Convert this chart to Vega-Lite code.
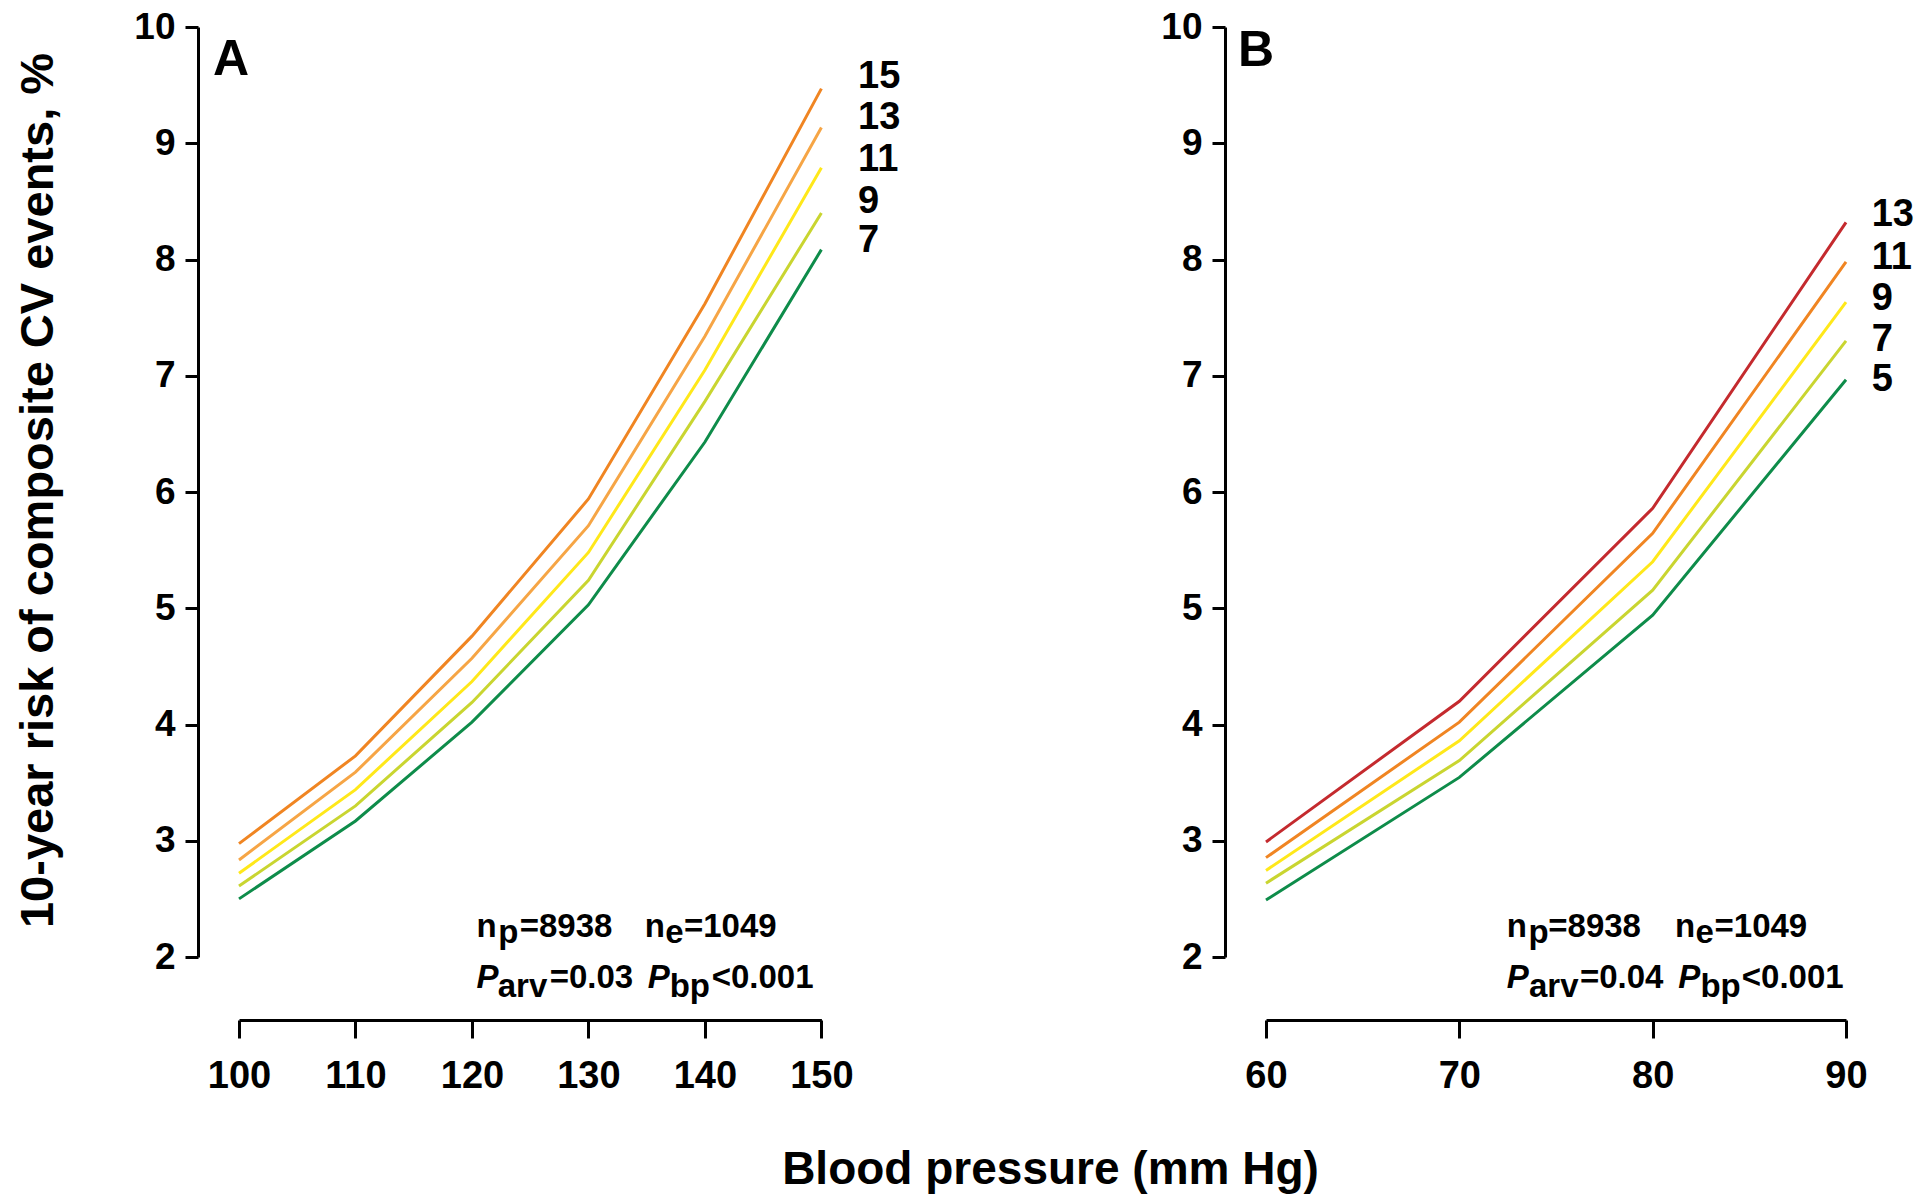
{
  "$schema": "https://vega.github.io/schema/vega-lite/v6.json",
  "autosize": {"type": "none"},
  "padding": {"left": 239, "top": 27, "right": 1681, "bottom": 1171},
  "background": "white",
  "config": {"view": {"stroke": null}, "font": "Liberation Sans"},
  "bounds": "flush",
  "spacing": 444,
  "resolve": {"scale": {"color": "independent", "x": "independent", "y": "independent"}},
  "hconcat": [
    {
      "width": 582.4,
      "height": 930,
      "encoding": {
        "x": {"field": "bp", "type": "quantitative",
          "scale": {"domain": [100, 150], "nice": false, "zero": false},
          "axis": {"values": [100, 110, 120, 130, 140, 150], "offset": 63, "tickSize": 18, "tickWidth": 3, "domainWidth": 3,
            "domainColor": "black", "tickColor": "black", "labelColor": "black", "labelFont": "Liberation Sans",
            "labelFontSize": 38, "labelFontWeight": "bold", "labelPadding": 19, "labelFlush": false, "labelOverlap": false, "grid": false,
            "title": "Blood pressure (mm Hg)", "titleFont": "Liberation Sans", "titleFontSize": 46, "titleFontWeight": "bold", "titleColor": "black",
            "titleX": 811, "titleY": 163, "titleBaseline": "alphabetic", "titleAlign": "center"}},
        "y": {"field": "risk", "type": "quantitative",
          "scale": {"domain": [2, 10], "nice": false, "zero": false},
          "axis": {"values": [2, 3, 4, 5, 6, 7, 8, 9, 10], "offset": 41, "tickSize": 13, "tickWidth": 3, "domainWidth": 3,
            "domainColor": "black", "tickColor": "black", "labelColor": "black", "labelFont": "Liberation Sans",
            "labelFontSize": 37, "labelFontWeight": "bold", "labelPadding": 10, "labelOverlap": false, "grid": false,
            "title": "10-year risk of composite CV events, %", "titleFont": "Liberation Sans", "titleFontSize": 47, "titleFontWeight": "bold", "titleColor": "black",
            "titleX": -146, "titleY": 463, "titleAngle": -90, "titleBaseline": "alphabetic", "titleAlign": "center"}}
      },
      "layer": [
        {
          "data": {"values": [
            {"bp": 100, "risk": 2.975, "series": "15"}, {"bp": 110, "risk": 3.73, "series": "15"}, {"bp": 120, "risk": 4.76, "series": "15"}, {"bp": 130, "risk": 5.94, "series": "15"}, {"bp": 140, "risk": 7.62, "series": "15"}, {"bp": 150, "risk": 9.47, "series": "15"},
            {"bp": 100, "risk": 2.835, "series": "13"}, {"bp": 110, "risk": 3.59, "series": "13"}, {"bp": 120, "risk": 4.57, "series": "13"}, {"bp": 130, "risk": 5.71, "series": "13"}, {"bp": 140, "risk": 7.34, "series": "13"}, {"bp": 150, "risk": 9.135, "series": "13"},
            {"bp": 100, "risk": 2.72, "series": "11"}, {"bp": 110, "risk": 3.44, "series": "11"}, {"bp": 120, "risk": 4.37, "series": "11"}, {"bp": 130, "risk": 5.48, "series": "11"}, {"bp": 140, "risk": 7.05, "series": "11"}, {"bp": 150, "risk": 8.79, "series": "11"},
            {"bp": 100, "risk": 2.61, "series": "9"}, {"bp": 110, "risk": 3.30, "series": "9"}, {"bp": 120, "risk": 4.19, "series": "9"}, {"bp": 130, "risk": 5.24, "series": "9"}, {"bp": 140, "risk": 6.78, "series": "9"}, {"bp": 150, "risk": 8.40, "series": "9"},
            {"bp": 100, "risk": 2.50, "series": "7"}, {"bp": 110, "risk": 3.17, "series": "7"}, {"bp": 120, "risk": 4.02, "series": "7"}, {"bp": 130, "risk": 5.03, "series": "7"}, {"bp": 140, "risk": 6.43, "series": "7"}, {"bp": 150, "risk": 8.085, "series": "7"}
          ]},
          "mark": {"type": "line", "strokeWidth": 3},
          "encoding": {
            "color": {"field": "series", "type": "nominal",
              "scale": {"domain": ["15", "13", "11", "9", "7"], "range": ["#F08522", "#F6A545", "#FFE81A", "#C9D530", "#0E8C4A"]},
              "legend": null}
          }
        },
        {
          "data": {"values": [
            {"bp": 153.15, "risk": 9.573, "label": "15"}, {"bp": 153.15, "risk": 9.219, "label": "13"}, {"bp": 153.15, "risk": 8.853, "label": "11"},
            {"bp": 153.15, "risk": 8.495, "label": "9"}, {"bp": 153.15, "risk": 8.158, "label": "7"}
          ]},
          "mark": {"type": "text", "align": "left", "baseline": "middle", "fontSize": 38, "fontWeight": "bold", "color": "black"},
          "encoding": {"text": {"field": "label"}}
        },
        {
          "data": {"values": [{"bp": 97.77, "risk": 9.72, "label": "A"}]},
          "mark": {"type": "text", "align": "left", "baseline": "middle", "fontSize": 50, "fontWeight": "bold", "color": "black"},
          "encoding": {"text": {"field": "label"}}
        },
        {
          "data": {"values": [
            {"bp": 120.38, "risk": 2.172, "label": "n"}, {"bp": 122.25, "risk": 2.118, "label": "p"}, {"bp": 124.1, "risk": 2.172, "label": "=8938"},
            {"bp": 134.83, "risk": 2.172, "label": "n"}, {"bp": 136.6, "risk": 2.118, "label": "e"}, {"bp": 138.2, "risk": 2.172, "label": "=1049"},
            {"bp": 122.21, "risk": 1.656, "label": "arv"}, {"bp": 126.67, "risk": 1.731, "label": "=0.03"},
            {"bp": 136.97, "risk": 1.656, "label": "bp"}, {"bp": 140.58, "risk": 1.731, "label": "<0.001"}
          ]},
          "mark": {"type": "text", "align": "left", "baseline": "alphabetic", "fontSize": 33, "fontWeight": "bold", "color": "black"},
          "encoding": {"text": {"field": "label"}}
        },
        {
          "data": {"values": [
            {"bp": 120.38, "risk": 1.731, "label": "P"}, {"bp": 135.09, "risk": 1.731, "label": "P"}
          ]},
          "mark": {"type": "text", "align": "left", "baseline": "alphabetic", "fontSize": 33, "fontWeight": "bold", "fontStyle": "italic", "color": "black"},
          "encoding": {"text": {"field": "label"}}
        }
      ]
    },
    {
      "width": 580,
      "height": 930,
      "encoding": {
        "x": {"field": "bp", "type": "quantitative",
          "scale": {"domain": [60, 90], "nice": false, "zero": false},
          "axis": {"values": [60, 70, 80, 90], "offset": 63, "tickSize": 18, "tickWidth": 3, "domainWidth": 3,
            "domainColor": "black", "tickColor": "black", "labelColor": "black", "labelFont": "Liberation Sans",
            "labelFontSize": 38, "labelFontWeight": "bold", "labelPadding": 19, "labelFlush": false, "labelOverlap": false, "grid": false,
            "title": null}},
        "y": {"field": "risk", "type": "quantitative",
          "scale": {"domain": [2, 10], "nice": false, "zero": false},
          "axis": {"values": [2, 3, 4, 5, 6, 7, 8, 9, 10], "offset": 41, "tickSize": 13, "tickWidth": 3, "domainWidth": 3,
            "domainColor": "black", "tickColor": "black", "labelColor": "black", "labelFont": "Liberation Sans",
            "labelFontSize": 37, "labelFontWeight": "bold", "labelPadding": 10, "labelOverlap": false, "grid": false,
            "title": null}}
      },
      "layer": [
        {
          "data": {"values": [
            {"bp": 60, "risk": 2.99, "series": "13"}, {"bp": 70, "risk": 4.20, "series": "13"}, {"bp": 80, "risk": 5.86, "series": "13"}, {"bp": 90, "risk": 8.32, "series": "13"},
            {"bp": 60, "risk": 2.855, "series": "11"}, {"bp": 70, "risk": 4.02, "series": "11"}, {"bp": 80, "risk": 5.645, "series": "11"}, {"bp": 90, "risk": 7.98, "series": "11"},
            {"bp": 60, "risk": 2.745, "series": "9"}, {"bp": 70, "risk": 3.86, "series": "9"}, {"bp": 80, "risk": 5.40, "series": "9"}, {"bp": 90, "risk": 7.634, "series": "9"},
            {"bp": 60, "risk": 2.635, "series": "7"}, {"bp": 70, "risk": 3.69, "series": "7"}, {"bp": 80, "risk": 5.155, "series": "7"}, {"bp": 90, "risk": 7.30, "series": "7"},
            {"bp": 60, "risk": 2.49, "series": "5"}, {"bp": 70, "risk": 3.545, "series": "5"}, {"bp": 80, "risk": 4.94, "series": "5"}, {"bp": 90, "risk": 6.965, "series": "5"}
          ]},
          "mark": {"type": "line", "strokeWidth": 3},
          "encoding": {
            "color": {"field": "series", "type": "nominal",
              "scale": {"domain": ["13", "11", "9", "7", "5"], "range": ["#C42A2E", "#F08522", "#FFE81A", "#C9D530", "#0E8C4A"]},
              "legend": null}
          }
        },
        {
          "data": {"values": [
            {"bp": 91.33, "risk": 8.38, "label": "13"}, {"bp": 91.33, "risk": 8.015, "label": "11"}, {"bp": 91.33, "risk": 7.66, "label": "9"},
            {"bp": 91.33, "risk": 7.31, "label": "7"}, {"bp": 91.33, "risk": 6.965, "label": "5"}
          ]},
          "mark": {"type": "text", "align": "left", "baseline": "middle", "fontSize": 38, "fontWeight": "bold", "color": "black"},
          "encoding": {"text": {"field": "label"}}
        },
        {
          "data": {"values": [{"bp": 58.55, "risk": 9.79, "label": "B"}]},
          "mark": {"type": "text", "align": "left", "baseline": "middle", "fontSize": 50, "fontWeight": "bold", "color": "black"},
          "encoding": {"text": {"field": "label"}}
        },
        {
          "data": {"values": [
            {"bp": 72.45, "risk": 2.172, "label": "n"}, {"bp": 73.58, "risk": 2.118, "label": "p"}, {"bp": 74.6, "risk": 2.172, "label": "=8938"},
            {"bp": 81.16, "risk": 2.172, "label": "n"}, {"bp": 82.22, "risk": 2.118, "label": "e"}, {"bp": 83.2, "risk": 2.172, "label": "=1049"},
            {"bp": 73.6, "risk": 1.656, "label": "arv"}, {"bp": 76.24, "risk": 1.731, "label": "=0.04"},
            {"bp": 82.47, "risk": 1.656, "label": "bp"}, {"bp": 84.61, "risk": 1.731, "label": "<0.001"}
          ]},
          "mark": {"type": "text", "align": "left", "baseline": "alphabetic", "fontSize": 33, "fontWeight": "bold", "color": "black"},
          "encoding": {"text": {"field": "label"}}
        },
        {
          "data": {"values": [
            {"bp": 72.45, "risk": 1.731, "label": "P"}, {"bp": 81.32, "risk": 1.731, "label": "P"}
          ]},
          "mark": {"type": "text", "align": "left", "baseline": "alphabetic", "fontSize": 33, "fontWeight": "bold", "fontStyle": "italic", "color": "black"},
          "encoding": {"text": {"field": "label"}}
        }
      ]
    }
  ]
}
